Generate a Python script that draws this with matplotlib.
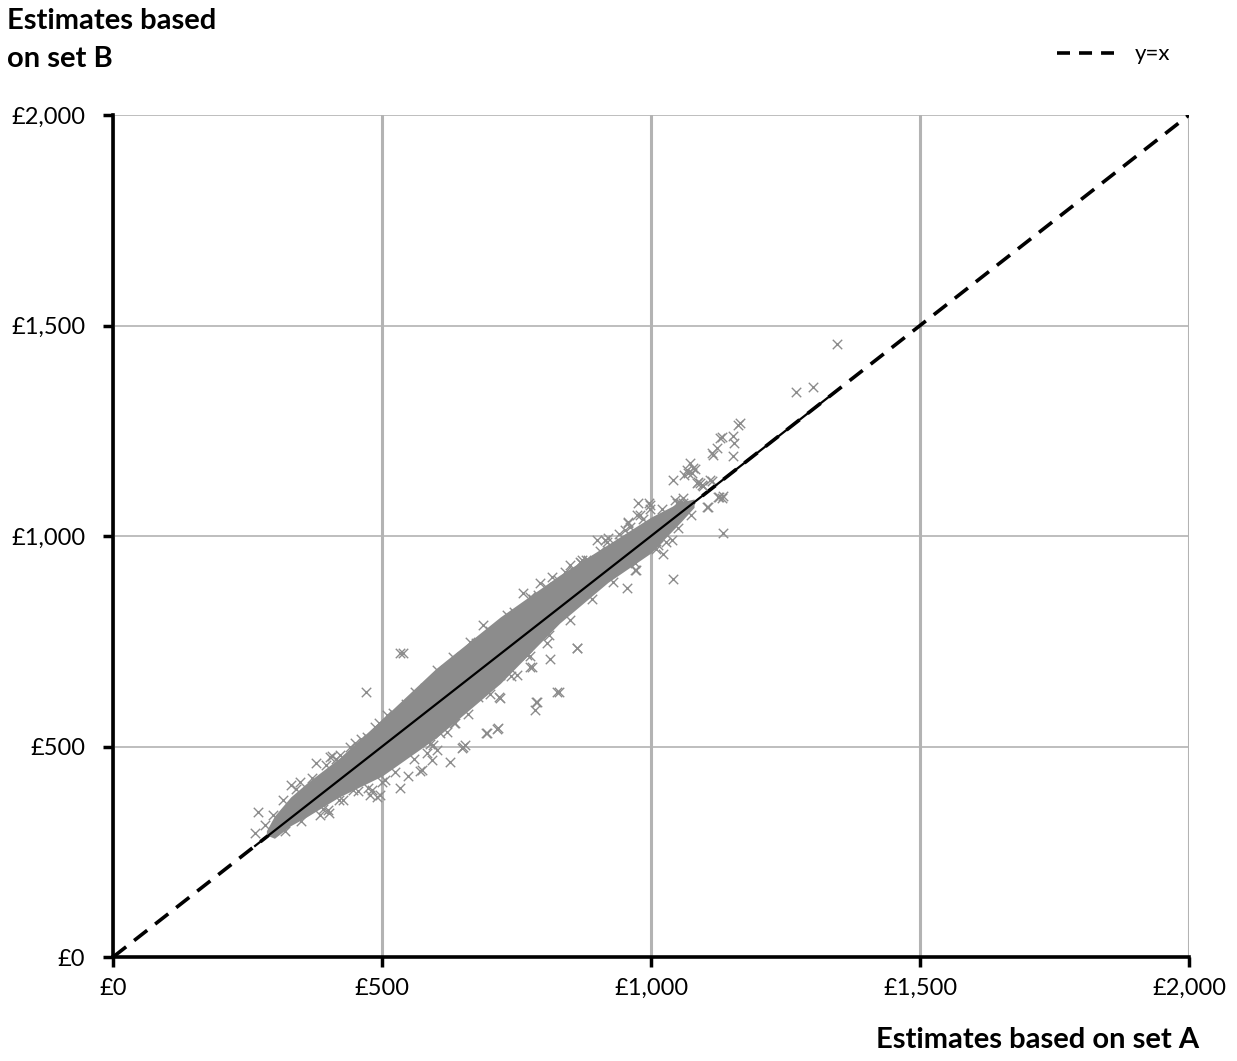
import matplotlib.pyplot as plt
from matplotlib.lines import Line2D
from matplotlib.ticker import FuncFormatter

plt.rcParams['font.family'] = ['Lato', 'DejaVu Sans']

# dense core of the cloud: x value, lower and upper edge of the band (set A -> set B)
band_x = [285, 300, 330, 360, 420, 500, 600, 720, 830, 920, 1000, 1055, 1080]
band_lo = [290, 282, 312, 333, 380, 430, 520, 650, 793, 890, 960, 1033, 1068]
band_hi = [300, 335, 380, 413, 472, 565, 685, 808, 907, 980, 1045, 1081, 1088]

# individual estimates outside or on the edge of the dense core
pts_a = [
    264, 270, 283, 297, 331, 348, 370, 377, 403, 407, 422, 450, 472, 487, 509,
    385, 401, 400, 428, 446, 474, 478, 481, 491, 496, 506, 533, 548, 570, 574,
    584, 593, 595, 602, 608, 626, 634, 636, 648, 651, 654, 678, 693, 695, 714,
    715, 717, 719, 719, 750, 769, 775, 778, 784, 786, 788, 807, 812, 825, 829,
    862, 863, 470, 533, 539, 561, 602, 632, 664, 688, 706, 732, 738, 762, 775,
    790, 794, 816, 827, 849, 855, 868, 871, 880, 883, 899, 914, 918, 920, 942,
    952, 955, 957, 957, 961, 970, 972, 974, 976, 979, 996, 998, 998, 1013, 1022,
    1028, 1039, 1041, 1041, 1045, 1048, 1054, 1055, 1060, 1061, 1067, 1069, 1072,
    1076, 1078, 1082, 1086, 1087, 1091, 1094, 1096, 1104, 1106, 1110, 1113, 1113,
    1115, 1122, 1125, 1127, 1128, 1132, 1132, 1133, 1134, 1152, 1152, 1154, 1162,
    1165, 1269, 1301, 1346,
    315, 340, 395, 415, 440, 460, 495, 520, 545, 580, 620, 650, 675, 700, 745,
    780, 805, 840, 870, 905, 940, 985, 1020, 1060,
    320, 350, 390, 420, 455, 500, 525, 560, 590, 620, 660, 700, 740, 775, 810,
    850, 890, 930, 970, 1010, 1050, 1075,
]
pts_b = [
    295, 344, 313, 337, 408, 416, 425, 461, 475, 477, 480, 508, 523, 546, 575,
    337, 342, 349, 373, 397, 401, 385, 397, 380, 385, 420, 401, 430, 442, 444,
    485, 468, 504, 492, 532, 463, 556, 556, 496, 499, 504, 618, 532, 532, 541,
    544, 617, 615, 670, 670, 717, 689, 689, 587, 606, 606, 746, 708, 630, 630,
    734, 734, 630, 721, 721, 629, 682, 713, 748, 789, 770, 812, 796, 864, 855,
    860, 888, 903, 895, 931, 919, 938, 943, 943, 943, 990, 990, 986, 995, 986,
    1014, 876, 1031, 1033, 1021, 919, 919, 1050, 1078, 1050, 1078, 1064, 1074,
    979, 957, 986, 990, 898, 1133, 1085, 1078, 1078, 1076, 1078, 1145, 1157,
    1150, 1173, 1150, 1161, 1159, 1126, 1128, 1126, 1121, 1119, 1069, 1069, 1133,
    1131, 1197, 1192, 1209, 1093, 1093, 1233, 1090, 1235, 1095, 1007, 1238, 1190,
    1221, 1264, 1268, 1342, 1354, 1456,
    372, 400, 455, 470, 500, 518, 555, 580, 600, 640, 680, 715, 745, 775, 820,
    850, 880, 915, 935, 965, 1005, 1040, 1065, 1090,
    300, 322, 352, 372, 395, 415, 440, 470, 505, 535, 578, 625, 668, 715, 765,
    800, 850, 890, 935, 970, 1020, 1050,
]

axis_max = 2000
ticks = [0, 500, 1000, 1500, 2000]
grey = '#8c8c8c'

fig = plt.figure(figsize=(12.37, 10.61), dpi=100)
ax = fig.add_axes([0.0914, 0.098, 0.8698, 0.7936])

ax.plot([0, axis_max], [0, axis_max], color='black', lw=2.6, ls=(0, (4.6, 2.8)),
        zorder=1)
ax.fill_between(band_x, band_lo, band_hi, color=grey, lw=0, zorder=2)
ax.scatter(pts_a, pts_b, marker='x', s=46, color=grey, linewidths=1.0, zorder=2)
lo, hi = min(pts_a), max(pts_a)
ax.plot([lo, hi], [lo, hi], color='black', lw=1.6, zorder=3)

ax.set_xlim(0, axis_max)
ax.set_ylim(0, axis_max)
ax.set_xticks(ticks)
ax.set_yticks(ticks)
fmt = FuncFormatter(lambda v, p: '£{:,.0f}'.format(v))
ax.xaxis.set_major_formatter(fmt)
ax.yaxis.set_major_formatter(fmt)
ax.tick_params(direction='out', length=7, width=2.5, labelsize=17, color='black')
ax.tick_params(axis='y', pad=13)
ax.tick_params(axis='x', pad=8)

ax.grid(True, axis='x', color='#b3b3b3', lw=2.2, zorder=0)
ax.grid(True, axis='y', color='#b3b3b3', lw=1.2, zorder=0)
ax.set_axisbelow(True)
for s in ['top', 'right']:
    ax.spines[s].set_visible(False)
for s in ['left', 'bottom']:
    ax.spines[s].set_linewidth(2.6)

fig.text(0.006, 0.992, 'Estimates based\non set B', ha='left', va='top',
         fontsize=21, fontweight='bold', linespacing=1.55)
fig.text(0.969, 0.008, 'Estimates based on set A', ha='right', va='bottom',
         fontsize=21, fontweight='bold')

handle = Line2D([], [], color='black', lw=2.6, ls=(0, (3.6, 2.5)))
fig.legend([handle], ['y=x'], loc='upper right', bbox_to_anchor=(0.962, 0.977),
           frameon=False, fontsize=16, handlelength=2.6, handletextpad=0.9)

fig.savefig('out.png', dpi=100)
